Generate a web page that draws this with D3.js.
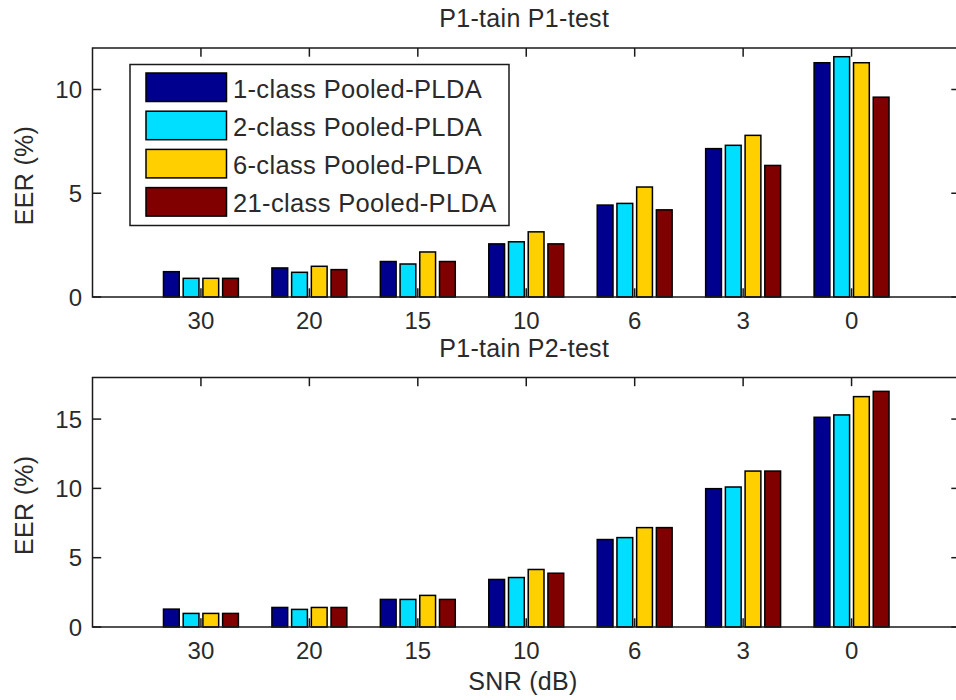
<!DOCTYPE html>
<html>
<head>
<meta charset="utf-8">
<script src="https://cdn.jsdelivr.net/npm/d3@7"></script>
<style>
  html, body { margin: 0; padding: 0; background: #fff; }
  svg { display: block; font-family: "Liberation Sans", Arial, sans-serif; }
</style>
</head>
<body>
<svg id="chart" width="956" height="700"></svg>
<script>
// ---- data ----
const categories = ["30", "20", "15", "10", "6", "3", "0"];
const seriesNames = ["1-class Pooled-PLDA", "2-class Pooled-PLDA", "6-class Pooled-PLDA", "21-class Pooled-PLDA"];
const seriesColors = ["#00008F", "#00DFFF", "#FFCF00", "#800000"];

// P1-tain P1-test
const p1test_1class  = [1.22, 1.40, 1.71, 2.56, 4.43, 7.15, 11.29];
const p1test_2class  = [0.90, 1.19, 1.59, 2.66, 4.51, 7.31, 11.58];
const p1test_6class  = [0.90, 1.48, 2.17, 3.14, 5.30, 7.79, 11.29];
const p1test_21class = [0.90, 1.32, 1.71, 2.56, 4.20, 6.34, 9.63];

// P1-tain P2-test
const p2test_1class  = [1.29, 1.41, 1.99, 3.43, 6.31, 9.98, 15.13];
const p2test_2class  = [0.98, 1.27, 1.99, 3.57, 6.45, 10.10, 15.30];
const p2test_6class  = [0.98, 1.41, 2.28, 4.15, 7.17, 11.25, 16.62];
const p2test_21class = [0.98, 1.41, 1.99, 3.88, 7.17, 11.25, 17.00];

const topTicks = [0, 5, 10];
const bottomTicks = [0, 5, 10, 15];

const panels = [
  { title: "P1-tain P1-test", series: [p1test_1class, p1test_2class, p1test_6class, p1test_21class],
    ymax: 12, yticks: topTicks, top: 48, bottom: 297, titleY: 27, legend: true, xlabel: false },
  { title: "P1-tain P2-test", series: [p2test_1class, p2test_2class, p2test_6class, p2test_21class],
    ymax: 18, yticks: bottomTicks, top: 377.5, bottom: 627, titleY: 357, legend: false, xlabel: true }
];

const svg = d3.select("#chart");
const left = 92.5, right = 960;
const x = d3.scaleLinear().domain([0, categories.length + 1]).range([left, right]);
const nS = seriesNames.length;
const groupW = Math.min(0.8, nS / (nS + 1.5));
const inner = d3.scaleBand().domain(d3.range(nS)).range([-groupW / 2, groupW / 2])
  .paddingInner(0.2).paddingOuter(0.1);
const tickLen = 8.7;
const ink = "#1a1a1a";
const textInk = "#2a2a2a";

panels.forEach(p => {
  const y = d3.scaleLinear().domain([0, p.ymax]).range([p.bottom, p.top]);
  const g = svg.append("g");

  // ticks (drawn below bars, MATLAB layer bottom)
  const tk = g.append("g").attr("stroke", ink).attr("stroke-width", 1.5);
  categories.forEach((c, i) => {
    const cx = x(i + 1);
    tk.append("line").attr("x1", cx).attr("x2", cx).attr("y1", p.bottom).attr("y2", p.bottom - tickLen);
    tk.append("line").attr("x1", cx).attr("x2", cx).attr("y1", p.top).attr("y2", p.top + tickLen);
  });
  p.yticks.forEach(t => {
    tk.append("line").attr("x1", left).attr("x2", left + tickLen).attr("y1", y(t)).attr("y2", y(t));
    tk.append("line").attr("x1", right).attr("x2", right - tickLen).attr("y1", y(t)).attr("y2", y(t));
  });

  // bars
  p.series.forEach((vals, s) => {
    g.append("g").selectAll("rect").data(vals).join("rect")
      .attr("x", (d, i) => x(i + 1 + inner(s)))
      .attr("width", x(inner.bandwidth()) - x(0))
      .attr("y", d => y(d))
      .attr("height", d => y(0) - y(d))
      .attr("fill", seriesColors[s])
      .attr("stroke", "#000")
      .attr("stroke-width", 1.5);
  });

  // axes box
  g.append("rect").attr("x", left).attr("y", p.top).attr("width", right - left).attr("height", p.bottom - p.top)
    .attr("fill", "none").attr("stroke", ink).attr("stroke-width", 1.5);

  // tick labels
  categories.forEach((c, i) => {
    g.append("text").attr("x", x(i + 1)).attr("y", p.bottom + 32).attr("text-anchor", "middle")
      .attr("font-size", 24).attr("fill", textInk).text(c);
  });
  p.yticks.forEach(t => {
    g.append("text").attr("x", 82).attr("y", y(t)).attr("text-anchor", "end")
      .attr("dominant-baseline", "central").attr("font-size", 24).attr("fill", textInk).text(t);
  });

  // title
  g.append("text").attr("x", (left + right) / 2 - 2).attr("y", p.titleY).attr("text-anchor", "middle")
    .attr("font-size", 25).attr("letter-spacing", 0.3).attr("fill", textInk).text(p.title);

  // y label
  g.append("text").attr("transform", `translate(33,${(p.top + p.bottom) / 2 + 3}) rotate(-90)`)
    .attr("text-anchor", "middle").attr("font-size", 25).attr("letter-spacing", 0.3).attr("fill", textInk).text("EER (%)");

  if (p.xlabel) {
    g.append("text").attr("x", 523).attr("y", 690).attr("text-anchor", "middle")
      .attr("font-size", 25).attr("letter-spacing", 0.3).attr("fill", textInk).text("SNR (dB)");
  }

  if (p.legend) {
    const lg = svg.append("g");
    lg.append("rect").attr("x", 130).attr("y", 64.5).attr("width", 379).attr("height", 161)
      .attr("fill", "#fff").attr("stroke", ink).attr("stroke-width", 1.5);
    seriesNames.forEach((name, s) => {
      const yy = 73 + s * 38.2;
      lg.append("rect").attr("x", 146).attr("y", yy).attr("width", 80.5).attr("height", 28.5)
        .attr("fill", seriesColors[s]).attr("stroke", "#000").attr("stroke-width", 1.5);
      lg.append("text").attr("x", 233).attr("y", yy + 24.5).attr("font-size", 25.5)
        .attr("letter-spacing", 0.35).attr("fill", textInk).text(name);
    });
  }
});
</script>
</body>
</html>
